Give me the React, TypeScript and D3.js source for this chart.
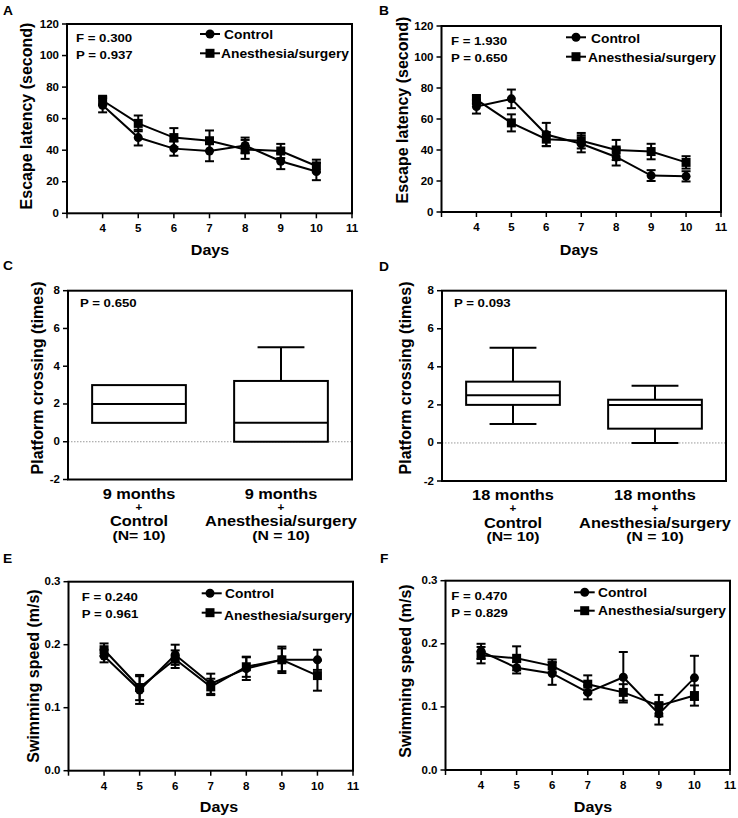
import React from "react";
import * as d3 from "d3";

const FONT = "'Liberation Sans', Arial, Helvetica, sans-serif";

// ---------- data ----------
const days = [4, 5, 6, 7, 8, 9, 10];
const dayTicks = [3, 4, 5, 6, 7, 8, 9, 10, 11];
const dayLabels = [4, 5, 6, 7, 8, 9, 10, 11];
const seriesNames = ["Control", "Anesthesia/surgery"];

const latencyTicks = [0, 20, 40, 60, 80, 100, 120];
const speedTicks = [0, 0.1, 0.2, 0.3];
const crossingTicks = [-2, 0, 2, 4, 6, 8];

// Panel A (9 months) escape latency
const ctrlA = [68.5, 48, 41, 39.5, 43, 33, 26.5];
const ctrlAErr = [4.5, 5, 4.5, 6.5, 5, 5, 5.5];
const anesA = [71.5, 57, 48, 46, 40.5, 39.5, 30];
const anesAErr = [3, 5, 6, 6.5, 6, 4.5, 4];
const statsA = ["F = 0.300", "P = 0.937"];

// Panel B (18 months) escape latency
const ctrlB = [68, 73, 50, 44, 35.5, 23.5, 23];
const ctrlBErr = [4.5, 6, 7.5, 5.5, 5.5, 3.5, 3.3];
const anesB = [72.5, 57.5, 47, 46, 40, 39, 32];
const anesBErr = [3, 5.5, 4.5, 5, 6.5, 5, 4];
const statsB = ["F = 1.930", "P = 0.650"];

// Panel E swimming speed
const ctrlE = [0.182, 0.128, 0.184, 0.138, 0.162, 0.176, 0.176];
const ctrlEErr = [0.01, 0.022, 0.016, 0.016, 0.018, 0.021, 0.016];
const anesE = [0.192, 0.132, 0.177, 0.133, 0.165, 0.176, 0.151];
const anesEErr = [0.01, 0.02, 0.014, 0.013, 0.016, 0.018, 0.024];
const statsE = ["F = 0.240", "P = 0.961"];

// Panel F swimming speed
const ctrlF = [0.188, 0.162, 0.153, 0.123, 0.147, 0.089, 0.146];
const ctrlFErr = [0.012, 0.009, 0.018, 0.011, 0.04, 0.017, 0.035];
const anesF = [0.182, 0.177, 0.165, 0.136, 0.123, 0.102, 0.118];
const anesFErr = [0.013, 0.019, 0.01, 0.014, 0.013, 0.017, 0.016];
const statsF = ["F = 0.470", "P = 0.829"];

// Box plots: [min, q1, median, q3, max]
const boxC = [
  [1, 1, 2, 3, 3],
  [0, 0, 1, 3.22, 5],
];
const labelsC = [
  ["9 months", "+", "Control", "(N= 10)"],
  ["9 months", "+", "Anesthesia/surgery", "(N = 10)"],
];
const boxD = [
  [1, 2, 2.5, 3.22, 5],
  [0, 0.75, 2, 2.27, 3],
];
const labelsD = [
  ["18 months", "+", "Control", "(N= 10)"],
  ["18 months", "+", "Anesthesia/surgery", "(N = 10)"],
];
const pC = "P = 0.650";
const pD = "P = 0.093";

// ---------- helpers ----------
function T({ x, y, size, children, anchor = "start", sx = 1.15 }: any) {
  return (
    <text
      transform={`translate(${x},${y}) scale(${sx},1)`}
      fontSize={size}
      fontWeight="bold"
      fontFamily={FONT}
      textAnchor={anchor}
      fill="#000"
    >
      {children}
    </text>
  );
}

function YTitle({ x, y, text }: any) {
  return (
    <text
      transform={`translate(${x},${y}) rotate(-90)`}
      fontSize={16}
      fontWeight="bold"
      fontFamily={FONT}
      textAnchor="middle"
      dy="0.35em"
    >
      {text}
    </text>
  );
}

function Circle({ cx, cy }: any) {
  return <circle cx={cx} cy={cy} r={4.5} fill="#000" />;
}
function Square({ cx, cy }: any) {
  return <rect x={cx - 4.5} y={cy - 4.5} width={9} height={9} fill="#000" />;
}

function LinePanel(p: any) {
  const { l, r, t, b } = p.frame;
  const x = d3.scaleLinear().domain([3, 11]).range([l, r]);
  const y = d3.scaleLinear().domain([0, p.yMax]).range([b, t]);
  const line = d3
    .line<number>()
    .x((_, i) => x(days[i]))
    .y((v) => y(v));
  const series = [
    { v: p.ctrl, e: p.ctrlErr, M: Circle },
    { v: p.anes, e: p.anesErr, M: Square },
  ];
  const cap = 4.5;
  const lg = p.legend;
  return (
    <g>
      <T x={p.letterPos[0]} y={p.letterPos[1]} size={12}>
        {p.letter}
      </T>
      <rect x={l} y={t} width={r - l} height={b - t} fill="none" stroke="#000" strokeWidth={2} />
      {p.yTicks.map((v: number) => (
        <g key={v}>
          <line x1={l - 5} x2={l} y1={y(v)} y2={y(v)} stroke="#000" strokeWidth={1.5} />
          <T x={l - 8} y={y(v) + 3.5} size={10} anchor="end">
            {p.yFmt(v)}
          </T>
        </g>
      ))}
      {dayTicks.map((d) => (
        <line key={d} x1={x(d)} x2={x(d)} y1={b} y2={b + 5} stroke="#000" strokeWidth={1.5} />
      ))}
      {dayLabels.map((d) => (
        <T key={d} x={x(d)} y={b + 19} size={10} anchor="middle">
          {d}
        </T>
      ))}
      <T x={p.daysPos[0]} y={p.daysPos[1]} size={14} anchor="middle">
        Days
      </T>
      <YTitle x={p.yTitlePos[0]} y={p.yTitlePos[1]} text={p.yTitle} />
      <T x={p.statsPos[0]} y={p.statsPos[1]} size={11.5}>
        {p.stats[0]}
      </T>
      <T x={p.statsPos[0]} y={p.statsPos[2]} size={11.5}>
        {p.stats[1]}
      </T>
      {series.map((s, si) => (
        <g key={si}>
          <path d={line(s.v) || ""} fill="none" stroke="#000" strokeWidth={2} />
          {s.v.map((v: number, i: number) => {
            const cx = x(days[i]);
            const y1 = y(v + s.e[i]);
            const y2 = y(v - s.e[i]);
            return (
              <g key={i}>
                <line x1={cx} x2={cx} y1={y1} y2={y2} stroke="#000" strokeWidth={2} />
                <line x1={cx - cap} x2={cx + cap} y1={y1} y2={y1} stroke="#000" strokeWidth={2} />
                <line x1={cx - cap} x2={cx + cap} y1={y2} y2={y2} stroke="#000" strokeWidth={2} />
                <s.M cx={cx} cy={y(v)} />
              </g>
            );
          })}
        </g>
      ))}
      <line x1={lg.x1} x2={lg.x2} y1={lg.y1} y2={lg.y1} stroke="#000" strokeWidth={2} />
      <Circle cx={lg.xm} cy={lg.y1} />
      <T x={lg.tx1} y={lg.by1} size={12}>
        {seriesNames[0]}
      </T>
      <line x1={lg.x1} x2={lg.x2} y1={lg.y2} y2={lg.y2} stroke="#000" strokeWidth={2} />
      <Square cx={lg.xm} cy={lg.y2} />
      <T x={lg.tx2} y={lg.by2} size={12}>
        {seriesNames[1]}
      </T>
    </g>
  );
}

function BoxPanel(p: any) {
  const { l, r, t, b } = p.frame;
  const x = d3.scalePoint<number>().domain([0, 1]).range([l, r]).padding(0.5);
  const y = d3.scaleLinear().domain([-2, 8]).range([b, t]);
  const bw = x.step() * 0.66;
  const cw = bw / 2;
  return (
    <g>
      <T x={p.letterPos[0]} y={p.letterPos[1]} size={12}>
        {p.letter}
      </T>
      <line x1={l} x2={r} y1={y(0)} y2={y(0)} stroke="#999" strokeWidth={1} strokeDasharray="1.5,1.5" />
      {p.boxes.map((bx: number[], i: number) => {
        const cx = x(i) as number;
        const [mn, q1, md, q3, mx] = bx;
        return (
          <g key={i} stroke="#000" strokeWidth={2} fill="none">
            {mx > q3 && (
              <>
                <line x1={cx} x2={cx} y1={y(q3)} y2={y(mx)} />
                <line x1={cx - cw / 2} x2={cx + cw / 2} y1={y(mx)} y2={y(mx)} />
              </>
            )}
            {mn < q1 && (
              <>
                <line x1={cx} x2={cx} y1={y(q1)} y2={y(mn)} />
                <line x1={cx - cw / 2} x2={cx + cw / 2} y1={y(mn)} y2={y(mn)} />
              </>
            )}
            <rect x={cx - bw / 2} y={y(q3)} width={bw} height={y(q1) - y(q3)} fill="#fff" />
            <line x1={cx - bw / 2} x2={cx + bw / 2} y1={y(md)} y2={y(md)} />
          </g>
        );
      })}
      <rect x={l} y={t} width={r - l} height={b - t} fill="none" stroke="#000" strokeWidth={2} />
      {crossingTicks.map((v) => (
        <g key={v}>
          <line x1={l - 5} x2={l} y1={y(v)} y2={y(v)} stroke="#000" strokeWidth={1.5} />
          <T x={l - 8} y={y(v) + 3.5} size={10} anchor="end">
            {v}
          </T>
        </g>
      ))}
      {p.labels.map((lines: string[], i: number) => {
        const cx = x(i) as number;
        const offs = [19, 31, 46.5, 60];
        const sizes = [14, 10, 14, 13.5];
        return (
          <g key={i}>
            {lines.map((s, j) => (
              <T key={j} x={cx} y={b + offs[j]} size={sizes[j]} anchor="middle" sx={1.17}>
                {s}
              </T>
            ))}
          </g>
        );
      })}
      <YTitle x={p.yTitlePos[0]} y={p.yTitlePos[1]} text="Platform crossing (times)" />
      <T x={p.pPos[0]} y={p.pPos[1]} size={11.5}>
        {p.p}
      </T>
    </g>
  );
}

const fmtInt = (v: number) => String(v);
const fmt1 = d3.format(".1f");

export default function App() {
  return (
    <svg
      width={738}
      height={818}
      style={{ position: "absolute", left: 0, top: 0, background: "#fff" }}
    >
      <rect width={738} height={818} fill="#fff" />
      <LinePanel
        letter="A"
        letterPos={[3, 15]}
        frame={{ l: 67, r: 352, t: 24, b: 213.3 }}
        yMax={120}
        yTicks={latencyTicks}
        yFmt={fmtInt}
        ctrl={ctrlA}
        ctrlErr={ctrlAErr}
        anes={anesA}
        anesErr={anesAErr}
        yTitle="Escape latency (second)"
        yTitlePos={[26, 116]}
        daysPos={[210, 255]}
        stats={statsA}
        statsPos={[76, 42, 59]}
        legend={{ x1: 200, x2: 220, xm: 210, y1: 34, y2: 53.3, tx1: 224, tx2: 221, by1: 39, by2: 58 }}
      />
      <LinePanel
        letter="B"
        letterPos={[379, 15]}
        frame={{ l: 441.5, r: 721, t: 26, b: 212 }}
        yMax={120}
        yTicks={latencyTicks}
        yFmt={fmtInt}
        ctrl={ctrlB}
        ctrlErr={ctrlBErr}
        anes={anesB}
        anesErr={anesBErr}
        yTitle="Escape latency (second)"
        yTitlePos={[402, 110]}
        daysPos={[579, 255]}
        stats={statsB}
        statsPos={[451, 45, 62]}
        legend={{ x1: 566, x2: 586, xm: 576, y1: 37.3, y2: 56.7, tx1: 591, tx2: 588, by1: 42.7, by2: 61.7 }}
      />
      <BoxPanel
        letter="C"
        letterPos={[3, 270]}
        frame={{ l: 68, r: 352, t: 290.7, b: 479.5 }}
        boxes={boxC}
        labels={labelsC}
        yTitlePos={[37, 378]}
        p={pC}
        pPos={[80, 307]}
      />
      <BoxPanel
        letter="D"
        letterPos={[379, 271]}
        frame={{ l: 442, r: 726, t: 290.7, b: 481 }}
        boxes={boxD}
        labels={labelsD}
        yTitlePos={[405, 378]}
        p={pD}
        pPos={[454, 307]}
      />
      <LinePanel
        letter="E"
        letterPos={[3, 563]}
        frame={{ l: 68.5, r: 353, t: 581.7, b: 770.7 }}
        yMax={0.3}
        yTicks={speedTicks}
        yFmt={fmt1}
        ctrl={ctrlE}
        ctrlErr={ctrlEErr}
        anes={anesE}
        anesErr={anesEErr}
        yTitle="Swimming speed (m/s)"
        yTitlePos={[33, 676]}
        daysPos={[219, 811.7]}
        stats={statsE}
        statsPos={[81.7, 600.7, 618.3]}
        legend={{ x1: 201.7, x2: 221.7, xm: 210, y1: 593.3, y2: 612.7, tx1: 225, tx2: 224, by1: 598.3, by2: 620 }}
      />
      <LinePanel
        letter="F"
        letterPos={[380, 563]}
        frame={{ l: 445.5, r: 730, t: 580.7, b: 770 }}
        yMax={0.3}
        yTicks={speedTicks}
        yFmt={fmt1}
        ctrl={ctrlF}
        ctrlErr={ctrlFErr}
        anes={anesF}
        anesErr={anesFErr}
        yTitle="Swimming speed (m/s)"
        yTitlePos={[405, 671]}
        daysPos={[593, 811.7]}
        stats={statsF}
        statsPos={[451.3, 600, 616.7]}
        legend={{ x1: 574, x2: 594.7, xm: 584.7, y1: 592.3, y2: 610.7, tx1: 598, tx2: 598, by1: 596.7, by2: 615 }}
      />
    </svg>
  );
}
